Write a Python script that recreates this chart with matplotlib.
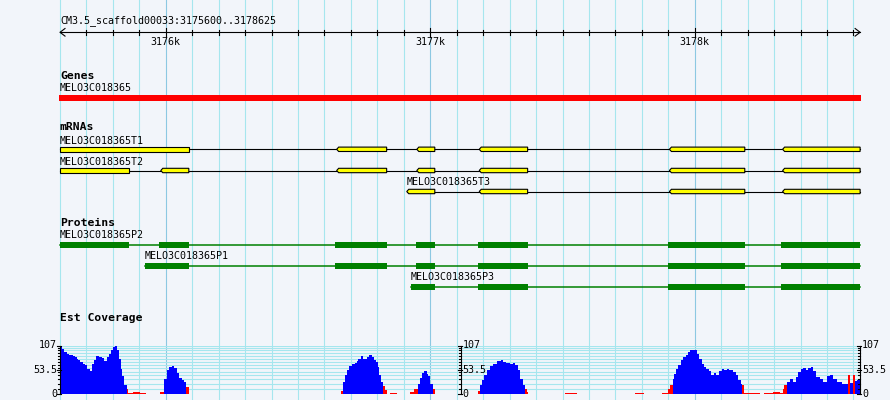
import matplotlib
matplotlib.use('Agg')
import matplotlib.pyplot as plt
from matplotlib.patches import Polygon, Rectangle

# region shown
ref_start = 3175600
ref_end = 3178625
title = 'CM3.5_scaffold00033:3175600..3178625'

# genes track
gene_name = 'MELO3C018365'
gene_span = (3175600, 3178625)

# mRNA track (exon start, end)
mrna_names = ['MELO3C018365T1', 'MELO3C018365T2', 'MELO3C018365T3']
t1_exons = [(3175600, 3176087), (3176646, 3176835), (3176949, 3177017),
            (3177185, 3177368), (3177904, 3178189), (3178332, 3178625)]
t2_exons = [(3175600, 3175860), (3175981, 3176087), (3176646, 3176835),
            (3176949, 3177017), (3177185, 3177368), (3177904, 3178189),
            (3178332, 3178625)]
t3_exons = [(3176911, 3177017), (3177185, 3177368), (3177904, 3178189),
            (3178332, 3178625)]

# protein track (CDS start, end)
protein_names = ['MELO3C018365P2', 'MELO3C018365P1', 'MELO3C018365P3']
p2_cds = [(3175600, 3175861), (3175974, 3176087), (3176640, 3176835),
          (3176946, 3177018), (3177180, 3177369), (3177899, 3178190),
          (3178326, 3178625)]
p1_cds = [(3175921, 3176087), (3176640, 3176835), (3176946, 3177018),
          (3177180, 3177369), (3177899, 3178190), (3178326, 3178625)]
p3_cds = [(3176927, 3177018), (3177180, 3177369), (3177899, 3178190),
          (3178326, 3178625)]

# est coverage: (offset start, offset end, depth), offsets from ref_start
cov_max = 107
cov_labels = ['107', '53.5', '0']
cov_label_vals = [107, 53.5, 0]
cov_grid = [10.9, 21.8, 32.1, 40.9, 49.6, 57.5, 64.9, 71.4, 78, 84.5, 90.3, 96, 101, 107]
cov_axes_at = [3175600, 3177115, 3178625]

blue_runs = [
    (0, 8, 103), (8, 15, 100), (15, 25, 92), (25, 35, 89), (35, 44, 87), (44, 50, 85),
    (50, 57, 84), (57, 63, 81), (63, 69, 78), (69, 76, 74), (76, 86, 70), (86, 95, 67),
    (95, 103, 63), (103, 113, 56), (113, 122, 50), (122, 129, 67), (129, 136, 76),
    (136, 146, 84), (146, 158, 82), (158, 166, 80), (166, 177, 73), (177, 185, 81),
    (185, 193, 89), (193, 201, 96), (201, 209, 103), (209, 217, 106), (217, 223, 96),
    (223, 229, 78), (229, 235, 56), (235, 242, 40), (242, 252, 20),
    (393, 403, 34), (403, 413, 52), (413, 422, 59), (422, 431, 61), (431, 441, 57),
    (441, 451, 46), (451, 460, 35), (460, 469, 30), (469, 476, 26),
    (1071, 1077, 27), (1077, 1086, 41), (1086, 1094, 52), (1094, 1103, 62),
    (1103, 1115, 67), (1115, 1121, 69), (1121, 1128, 73), (1128, 1137, 78),
    (1137, 1144, 84), (1144, 1149, 78), (1149, 1159, 77), (1159, 1168, 81),
    (1168, 1178, 85), (1178, 1187, 81), (1187, 1194, 74), (1194, 1201, 71),
    (1201, 1207, 60), (1207, 1213, 41), (1213, 1222, 27),
    (1354, 1361, 22), (1361, 1367, 36), (1367, 1376, 47), (1376, 1386, 51),
    (1386, 1392, 45), (1392, 1399, 40), (1399, 1409, 23),
    (1588, 1594, 20), (1594, 1603, 31), (1603, 1613, 41), (1613, 1625, 52),
    (1625, 1638, 62), (1638, 1651, 67), (1651, 1666, 72), (1666, 1676, 76),
    (1676, 1688, 71), (1688, 1701, 69), (1701, 1711, 66), (1711, 1720, 69),
    (1720, 1733, 64), (1733, 1741, 52), (1741, 1751, 34), (1751, 1758, 20),
    (2316, 2321, 34), (2321, 2328, 45), (2328, 2337, 56), (2337, 2346, 65),
    (2346, 2356, 74), (2356, 2366, 81), (2366, 2375, 87), (2375, 2381, 92),
    (2381, 2392, 96), (2392, 2400, 98), (2400, 2407, 96), (2407, 2417, 89),
    (2417, 2426, 78), (2426, 2434, 67), (2434, 2444, 60), (2444, 2454, 56),
    (2454, 2463, 50), (2463, 2472, 42), (2472, 2482, 47), (2482, 2492, 43),
    (2492, 2501, 50), (2501, 2510, 56), (2510, 2520, 52), (2520, 2530, 56),
    (2530, 2543, 52), (2543, 2555, 49), (2555, 2564, 42), (2564, 2573, 31),
    (2573, 2578, 23),
    (2749, 2760, 27), (2760, 2772, 33), (2772, 2782, 27), (2782, 2791, 38),
    (2791, 2800, 49), (2800, 2810, 56), (2810, 2820, 58), (2820, 2829, 52),
    (2829, 2838, 57), (2838, 2848, 59), (2848, 2860, 50), (2860, 2873, 38),
    (2873, 2885, 34), (2885, 2898, 27), (2898, 2911, 40), (2911, 2923, 43),
    (2923, 2936, 34), (2936, 2955, 27), (2955, 2980, 23),
    (2986, 2999, 25), (3006, 3015, 28), (3015, 3025, 31),
]
red_runs = [
    (252, 258, 10), (258, 277, 3), (277, 290, 5), (290, 302, 4), (302, 325, 3),
    (378, 393, 3.5), (476, 486, 16),
    (1062, 1071, 6.5), (1222, 1229, 18), (1229, 1237, 8), (1247, 1273, 2.5),
    (1323, 1339, 3.5), (1339, 1354, 10), (1409, 1418, 10),
    (1581, 1588, 7), (1758, 1764, 12), (1764, 1770, 5), (1909, 1953, 2.5),
    (2174, 2208, 2.5), (2276, 2300, 2.5), (2300, 2306, 10), (2306, 2316, 20),
    (2578, 2585, 20), (2585, 2646, 2),
    (2661, 2696, 2.5), (2696, 2722, 4.5), (2722, 2732, 2.5), (2732, 2738, 12),
    (2738, 2749, 20), (2980, 2986, 41), (2999, 3006, 41),
]

BG = '#f2f5fa'
GRID = '#a6e6ee'
GRID_MAJOR = '#8cc8e2'
MONO = 'DejaVu Sans Mono'
PX = 0.2645  # pixels per bp

fig = plt.figure(figsize=(8.9, 4), dpi=100)
fig.patch.set_facecolor(BG)
ax = fig.add_axes([0, 0, 1, 1])
ax.set_xlim(ref_start - 60 / PX, ref_start + 830 / PX)
ax.set_ylim(400, 0)
ax.axis('off')

# vertical grid every 100 bp
for pos in range(ref_start, ref_end + 1, 100):
    ax.axvline(pos, color=GRID_MAJOR if pos % 1000 == 0 else GRID, lw=0.8, zorder=0)

# ruler
ax.text(ref_start, 21, title, fontsize=7.2, family=MONO, va='center', ha='left')
ax.plot([ref_start, ref_end], [32.3, 32.3], color='k', lw=0.8)
ax.plot([ref_start + 5 / PX, ref_start, ref_start + 5 / PX], [28.5, 32.3, 36.1], color='k', lw=0.8)
ax.plot([ref_end - 5 / PX, ref_end, ref_end - 5 / PX], [28.5, 32.3, 36.1], color='k', lw=0.8)
for pos in range(ref_start + 100, ref_end, 100):
    if pos % 1000 == 0:
        ax.plot([pos, pos], [28, 36.7], color='k', lw=0.8)
        ax.text(pos, 42, f'{pos // 1000}k', fontsize=7.2, family=MONO, ha='center', va='center')
    else:
        ax.plot([pos, pos], [30, 34.7], color='k', lw=0.8)


def track_title(y, text):
    ax.text(ref_start, y, text, fontsize=8.2, family=MONO, weight='bold', va='center', ha='left')


def label(x, y, text):
    ax.text(x, y, text, fontsize=7.2, family=MONO, va='center', ha='left')


# genes
track_title(76, 'Genes')
label(gene_span[0], 88, gene_name)
ax.add_patch(Rectangle((gene_span[0] - 1 / PX, 95), gene_span[1] - gene_span[0] + 2 / PX, 6,
                       color='#ff0000', lw=0))


def draw_mrna(exons, yc, h=4.4):
    ax.plot([exons[0][0], exons[-1][1]], [yc, yc], color='k', lw=0.8, zorder=2)
    d = 2 / PX
    for s, e in exons:
        if s <= ref_start:
            pts = [(s, yc - h / 2), (e, yc - h / 2), (e, yc + h / 2), (s, yc + h / 2)]
        else:
            pts = [(s, yc), (s + d, yc - h / 2), (e, yc - h / 2), (e, yc + h / 2), (s + d, yc + h / 2)]
        ax.add_patch(Polygon(pts, closed=True, facecolor='#ffff00', edgecolor='k', lw=0.8, zorder=3))


track_title(127.5, 'mRNAs')
for exons, name, ylab, ybar in zip([t1_exons, t2_exons, t3_exons], mrna_names,
                                   [140.5, 162, 182], [149.3, 170.5, 191.5]):
    label(exons[0][0], ylab, name)
    draw_mrna(exons, ybar)


def draw_protein(cds, yc, h=6):
    ax.plot([cds[0][0], cds[-1][1]], [yc, yc], color='#008000', lw=1.1, zorder=2)
    for s, e in cds:
        ax.add_patch(Rectangle((s, yc - h / 2), e - s, h, color='#008000', lw=0, zorder=3))


track_title(223, 'Proteins')
for cds, name, ylab, ybar in zip([p2_cds, p1_cds, p3_cds], protein_names,
                                 [235, 256, 277], [244.8, 265.7, 287]):
    label(cds[0][0], ylab, name)
    draw_protein(cds, ybar)

# est coverage
track_title(318.3, 'Est Coverage')
cax = fig.add_axes([0, 6 / 400, 1, 48.5 / 400])
cax.set_xlim(ax.get_xlim())
cax.set_ylim(0, cov_max)
cax.axis('off')
cax.patch.set_alpha(0)

for v in cov_grid:
    cax.plot([ref_start, ref_end], [v, v], color=GRID, lw=0.8, zorder=0)

# each colour drawn as one filled step outline, so there are no seams between runs
for runs, col in [(blue_runs, '#0000ff'), (red_runs, '#ff0000')]:
    edges = [ref_start + runs[0][0]]
    vals = []
    for s, e, d in runs:
        if ref_start + s > edges[-1]:
            vals.append(0)
            edges.append(ref_start + s)
        vals.append(d)
        edges.append(ref_start + e)
    cax.stairs(vals, edges, fill=True, color=col, lw=0, zorder=2)

for i, pos in enumerate(cov_axes_at):
    cax.plot([pos, pos], [0, cov_max], color='k', lw=0.8, clip_on=False, zorder=4)
    for v in cov_grid[:-1]:
        cax.plot([pos - 2 / PX, pos], [v, v], color='k', lw=0.8, clip_on=False, zorder=4)
    for v, t in zip(cov_label_vals, cov_labels):
        cax.plot([pos - 3 / PX, pos + 1 / PX], [v, v], color='k', lw=0.8, clip_on=False, zorder=4)
        if i == 0:
            cax.text(pos - 3 / PX, v, t, fontsize=7.2, family=MONO, ha='right', va='center')
        else:
            cax.text(pos + 2 / PX, v, t, fontsize=7.2, family=MONO, ha='left', va='center')

fig.savefig('out.png', dpi=100, facecolor=BG)
